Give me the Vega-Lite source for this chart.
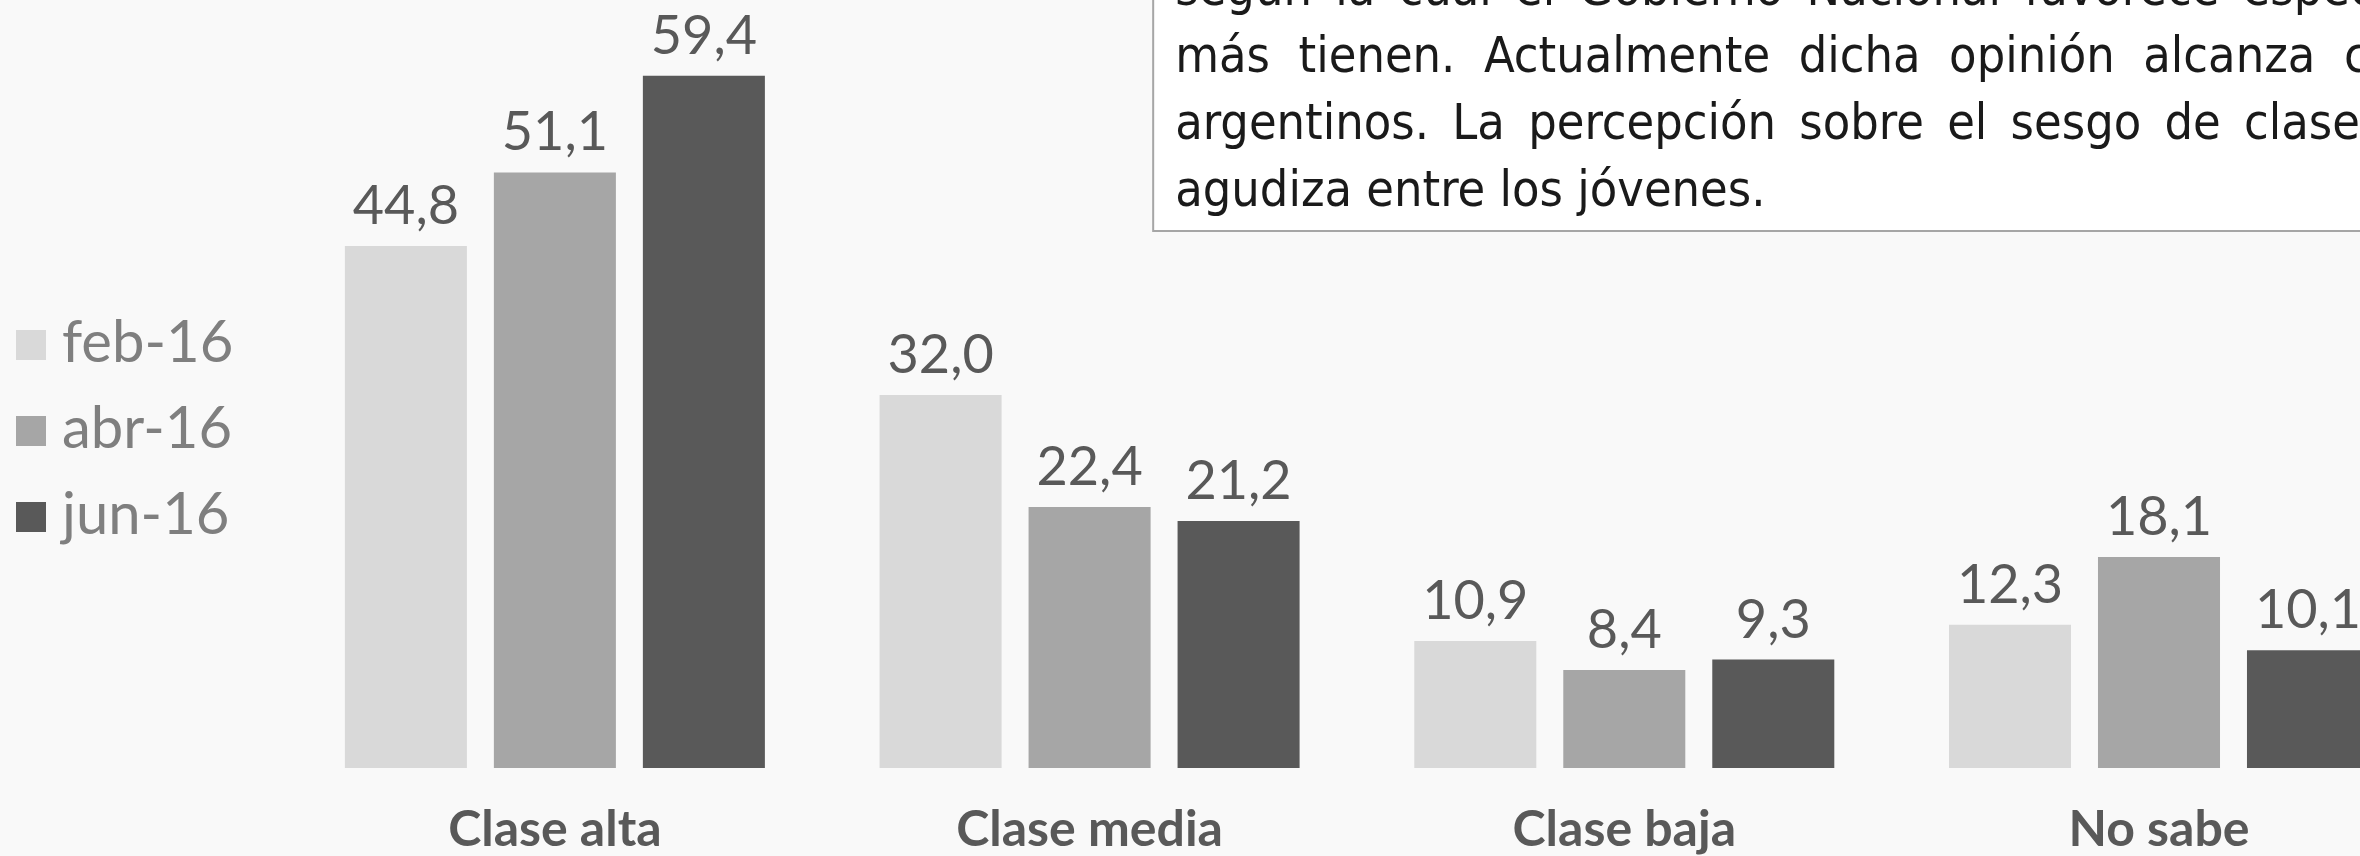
{
  "$schema": "https://vega.github.io/schema/vega-lite/v6.json",
  "autosize": {"type": "none"},
  "width": 2369,
  "height": 768,
  "padding": {"left": 0, "top": 0, "right": -9, "bottom": 88},
  "background": "#f9f9f9",
  "config": {
    "view": {"stroke": null},
    "locale": {"number": {"decimal": ",", "thousands": ".", "grouping": [3], "currency": ["", " €"]}}
  },
  "datasets": {
    "bars": [
      {"clase": "Clase alta", "fecha": "feb-16", "valor": 44.8},
      {"clase": "Clase alta", "fecha": "abr-16", "valor": 51.1},
      {"clase": "Clase alta", "fecha": "jun-16", "valor": 59.4},
      {"clase": "Clase media", "fecha": "feb-16", "valor": 32.0},
      {"clase": "Clase media", "fecha": "abr-16", "valor": 22.4},
      {"clase": "Clase media", "fecha": "jun-16", "valor": 21.2},
      {"clase": "Clase baja", "fecha": "feb-16", "valor": 10.9},
      {"clase": "Clase baja", "fecha": "abr-16", "valor": 8.4},
      {"clase": "Clase baja", "fecha": "jun-16", "valor": 9.3},
      {"clase": "No sabe", "fecha": "feb-16", "valor": 12.3},
      {"clase": "No sabe", "fecha": "abr-16", "valor": 18.1},
      {"clase": "No sabe", "fecha": "jun-16", "valor": 10.1}
    ],
    "nota": [
      {"texto": [
        "según\u2009 la\u2009 cual\u2009 el\u2009 Gobierno\u2009 Nacional\u2009 favorece\u2009 especialmente\u2009 a\u2009 quienes",
        "más\u00a0 tienen.\u00a0 Actualmente\u00a0 dicha\u00a0 opinión\u00a0 alcanza\u00a0 casi\u00a0 6 de cada 10",
        "argentinos.\u2009 La\u2009 percepción\u2009 sobre\u2009 el\u2009 sesgo\u2009 de\u2009 clase\u2009 se",
        "agudiza entre los jóvenes."
      ]}
    ]
  },
  "layer": [
    {
      "data": {"name": "bars"},
      "mark": {"type": "bar"},
      "encoding": {
        "x": {
          "field": "clase", "type": "nominal",
          "sort": ["Clase alta", "Clase media", "Clase baja", "No sabe"],
          "scale": {"paddingInner": 0.2145, "paddingOuter": 0.3225, "align": 1},
          "axis": {
            "title": null, "domain": false, "ticks": false, "tickSize": 0,
            "labelAngle": 0, "labelFont": "Lato", "labelFontWeight": "bold",
            "labelFontSize": 50, "labelColor": "#595959", "labelLimit": 0,
            "labelBaseline": "alphabetic", "labelPadding": 77
          }
        },
        "xOffset": {
          "field": "fecha", "type": "nominal",
          "sort": ["feb-16", "abr-16", "jun-16"],
          "scale": {"paddingInner": 0.181, "paddingOuter": 0}
        },
        "y": {
          "field": "valor", "type": "quantitative",
          "scale": {"domain": [0, 65.9], "nice": false, "zero": true},
          "axis": null
        },
        "color": {
          "field": "fecha", "type": "nominal",
          "sort": ["feb-16", "abr-16", "jun-16"],
          "scale": {"domain": ["feb-16", "abr-16", "jun-16"], "range": ["#d9d9d9", "#a6a6a6", "#595959"]},
          "legend": {
            "title": null, "orient": "none", "legendX": 2, "legendY": 316,
            "padding": 0, "symbolType": "square", "symbolSize": 900,
            "symbolStrokeWidth": 0, "symbolOpacity": 1,
            "labelFont": "Lato", "labelFontSize": 58, "labelColor": "#7f7f7f",
            "labelOffset": 2, "rowPadding": 28, "labelLimit": 0
          }
        }
      }
    },
    {
      "data": {"name": "bars"},
      "mark": {"type": "text", "dy": -22, "baseline": "alphabetic", "font": "Lato", "fontSize": 54, "color": "#595959"},
      "encoding": {
        "x": {"field": "clase", "type": "nominal", "sort": ["Clase alta", "Clase media", "Clase baja", "No sabe"]},
        "xOffset": {"field": "fecha", "type": "nominal", "sort": ["feb-16", "abr-16", "jun-16"]},
        "y": {"field": "valor", "type": "quantitative"},
        "text": {"field": "valor", "type": "quantitative", "format": ".1f"}
      }
    },
    {
      "data": {"name": "nota"},
      "mark": {"type": "rect", "fill": "#ffffff", "stroke": "#a6a6a6", "strokeWidth": 2},
      "encoding": {
        "x": {"datum": "Clase media", "bandPosition": 0.6514},
        "x2": {"datum": "No sabe", "bandPosition": 1.5},
        "y": {"datum": 46.08},
        "y2": {"datum": 75}
      }
    },
    {
      "data": {"name": "nota"},
      "mark": {"type": "text", "align": "left", "baseline": "alphabetic", "font": "DejaVu Sans Condensed", "fontSize": 50, "lineHeight": 67, "color": "#1a1a1a"},
      "encoding": {
        "x": {"datum": "Clase media", "bandPosition": 0.7038},
        "y": {"datum": 65.47},
        "text": {"field": "texto"}
      }
    }
  ]
}
